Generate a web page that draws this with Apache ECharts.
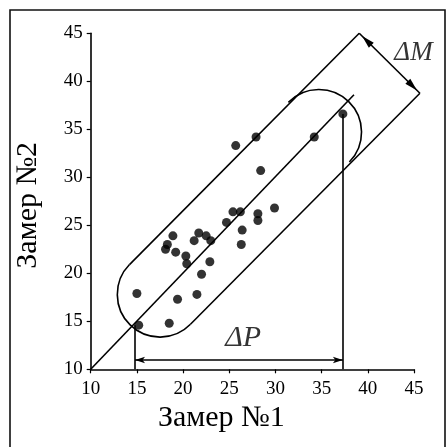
<!DOCTYPE html>
<html>
<head>
<meta charset="utf-8">
<script src="https://cdn.jsdelivr.net/npm/echarts@6/dist/echarts.min.js"></script>
<style>
  html, body { margin: 0; padding: 0; background: #fff; }
  #chart { width: 447px; height: 447px; }
</style>
</head>
<body>
<div id="chart"></div>
<script>
  // measured points, Замер №1 vs Замер №2
  var points = [
    [15.0, 17.9], [15.2, 14.6], [18.5, 14.8], [19.4, 17.3], [21.5, 17.8],
    [22.0, 19.9], [22.9, 21.2], [20.4, 21.0], [20.3, 21.8], [19.2, 22.2],
    [18.1, 22.5], [18.3, 23.0], [18.9, 23.9], [21.2, 23.4], [21.7, 24.2],
    [22.5, 23.9], [23.0, 23.4], [24.7, 25.3], [25.4, 26.4], [26.2, 26.4],
    [26.4, 24.5], [26.3, 23.0], [28.1, 26.2], [28.1, 25.5], [29.9, 26.8],
    [28.4, 30.7], [25.7, 33.3], [27.9, 34.2], [34.2, 34.2], [37.3, 36.6]
  ];
  var xTicks = [10, 15, 20, 25, 30, 35, 40, 45];
  var yTicks = [10, 15, 20, 25, 30, 35, 40, 45];

  // y = x line
  var diagLine = [[10, 10], [38.5, 38.6]];
  // centres of the two end arcs of the capsule
  var capsuleEnds = [[17.5, 17.8], [34.7, 34.7]];
  // upper / lower band line ends (also the ΔM dimension)
  var bandEnds = [[39.07, 45.0], [45.64, 38.75]];
  // ΔP: range on Замер №1
  var rangeP = [14.8, 37.3];
  var rangePy = [14.6, 36.6];
  var dimPy = 10.97;
  var labelM = [44.95, 42.95];
  var labelP = [26.5, 13.2];

  var FONT = '"Liberation Serif", "DejaVu Serif", serif';
  var st = { stroke: '#000', lineWidth: 1.6, fill: null };

  function renderCapsule(params, api) {
    var a = api.coord([api.value(0), api.value(1)]);
    var b = api.coord([api.value(2), api.value(3)]);
    var tu = api.coord(bandEnds[0]);
    var tl = api.coord(bandEnds[1]);
    var r = Math.hypot(tl[0] - tu[0], tl[1] - tu[1]) / 2;
    var ux = b[0] - a[0], uy = b[1] - a[1];
    var len = Math.hypot(ux, uy);
    ux /= len; uy /= len;
    var th = Math.atan2(uy, ux);
    var nx = uy, ny = -ux; // upper-left normal
    return {
      type: 'group',
      children: [
        { type: 'line', shape: { x1: a[0] + r * nx, y1: a[1] + r * ny, x2: tu[0], y2: tu[1] }, style: st },
        { type: 'line', shape: { x1: a[0] - r * nx, y1: a[1] - r * ny, x2: tl[0], y2: tl[1] }, style: st },
        { type: 'arc', shape: { cx: a[0], cy: a[1], r: r, startAngle: th + Math.PI / 2, endAngle: th + Math.PI * 1.5, clockwise: true }, style: st },
        { type: 'arc', shape: { cx: b[0], cy: b[1], r: r, startAngle: th - Math.PI / 2, endAngle: th + Math.PI / 2, clockwise: true }, style: st }
      ]
    };
  }

  // arrowhead with tip near p, pointing along (dx, dy)
  function arrowHead(p, dx, dy, inset) {
    var l = Math.hypot(dx, dy);
    dx /= l; dy /= l;
    var tip = [p[0] - dx * inset, p[1] - dy * inset];
    var bx = tip[0] - dx * 13, by = tip[1] - dy * 13;
    return {
      type: 'polygon',
      shape: { points: [tip, [bx - dy * 3.5, by + dx * 3.5], [bx + dy * 3.5, by - dx * 3.5]] },
      style: { fill: '#000' }
    };
  }

  function renderDimM(params, api) {
    var p = api.coord([api.value(0), api.value(1)]);
    var q = api.coord([api.value(2), api.value(3)]);
    var dx = q[0] - p[0], dy = q[1] - p[1];
    return {
      type: 'group',
      children: [
        { type: 'line', shape: { x1: p[0], y1: p[1], x2: q[0], y2: q[1] }, style: st },
        arrowHead(p, -dx, -dy, 4),
        arrowHead(q, dx, dy, 4)
      ]
    };
  }

  var lineStyle = { color: '#000', width: 1.6, type: 'solid' };

  var chart = echarts.init(document.getElementById('chart'), null, { renderer: 'canvas' });
  chart.setOption({
    animation: false,
    backgroundColor: '#fff',
    textStyle: { fontFamily: FONT },
    grid: { left: 90.7, right: 33, top: 33.3, bottom: 77.7 },
    graphic: [{
      type: 'rect',
      shape: { x: 10, y: 10, width: 435, height: 445 },
      style: { fill: null, stroke: '#111', lineWidth: 1.6 },
      silent: true
    }],
    xAxis: {
      type: 'value',
      min: xTicks[0], max: xTicks[xTicks.length - 1], interval: 5,
      name: 'Замер №1',
      nameLocation: 'middle',
      nameGap: 32,
      nameTextStyle: { fontSize: 30, color: '#000', fontFamily: FONT, padding: [0, 62, 0, 0] },
      axisLine: { lineStyle: { color: '#000', width: 1.6 } },
      axisTick: { show: true, length: 4, lineStyle: { color: '#000', width: 1.2 } },
      axisLabel: { fontSize: 19, color: '#000', margin: 10, fontFamily: FONT },
      splitLine: { show: false }
    },
    yAxis: {
      type: 'value',
      min: yTicks[0], max: yTicks[yTicks.length - 1], interval: 5,
      name: 'Замер №2',
      nameLocation: 'middle',
      nameRotate: 90,
      nameGap: 48,
      nameTextStyle: { fontSize: 30, color: '#000', fontFamily: FONT, padding: [0, 8, 0, 0] },
      axisLine: { lineStyle: { color: '#000', width: 1.6 } },
      axisTick: { show: true, length: 4, lineStyle: { color: '#000', width: 1.2 } },
      axisLabel: { fontSize: 19, color: '#000', margin: 8, fontFamily: FONT },
      splitLine: { show: false }
    },
    series: [
      {
        type: 'custom',
        clip: false,
        silent: true,
        renderItem: renderCapsule,
        encode: { x: [0, 2], y: [1, 3] },
        data: [capsuleEnds[0].concat(capsuleEnds[1])],
        z: 2
      },
      {
        type: 'custom',
        clip: false,
        silent: true,
        renderItem: renderDimM,
        encode: { x: [0, 2], y: [1, 3] },
        data: [bandEnds[0].concat(bandEnds[1])],
        z: 2
      },
      {
        type: 'line',
        data: diagLine,
        symbol: 'none',
        lineStyle: lineStyle,
        silent: true,
        z: 2,
        markLine: {
          silent: true,
          symbol: ['none', 'none'],
          label: { show: false },
          lineStyle: lineStyle,
          data: [
            [{ coord: [rangeP[0], rangePy[0]] }, { coord: [rangeP[0], 10] }],
            [{ coord: [rangeP[1], rangePy[1]] }, { coord: [rangeP[1], 10] }]
          ]
        }
      },
      {
        type: 'line',
        data: [],
        silent: true,
        markLine: {
          silent: true,
          symbol: ['arrow', 'arrow'],
          symbolSize: [5, 10],
          label: { show: false },
          lineStyle: { color: '#000', width: 1.6, type: 'solid' },
          data: [
            [{ coord: [rangeP[0], dimPy] }, { coord: [rangeP[1], dimPy] }]
          ]
        }
      },
      {
        type: 'scatter',
        data: points,
        symbol: 'circle',
        symbolSize: 9,
        itemStyle: { color: '#000' },
        z: 3
      },
      {
        type: 'scatter',
        silent: true,
        symbolSize: 0,
        data: [
          { name: 'ΔM', value: labelM, label: { fontSize: 27 } },
          { name: 'ΔP', value: labelP }
        ],
        label: {
          show: true,
          position: 'inside',
          formatter: '{b}',
          fontSize: 30,
          fontStyle: 'italic',
          color: '#000',
          fontFamily: FONT
        }
      }
    ]
  });
</script>
</body>
</html>
